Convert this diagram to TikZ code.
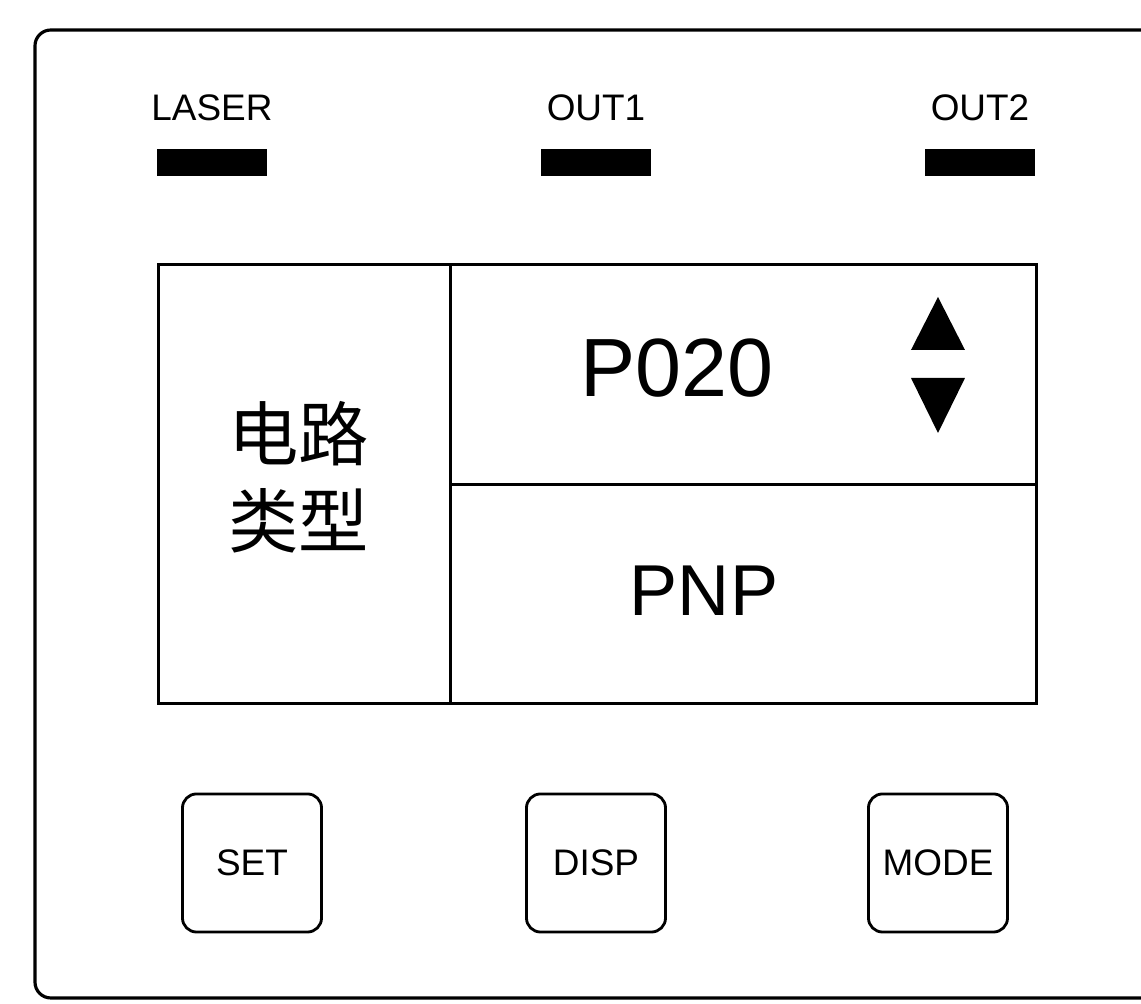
\documentclass[tikz,border=0pt]{standalone}
\usepackage{fontspec}
\setmainfont{Liberation Sans}
\newfontfamily\cjk{Noto Sans CJK SC}
\begin{document}
\begin{tikzpicture}[
  x=0.01cm, y=-0.01cm,
  panel/.style = {draw, line width=0.9pt, rounded corners=4.5pt},
  cell/.style = {draw, line width=0.85pt, anchor=north west, inner sep=0},
  led/.style = {fill=black, minimum width=1.1cm, minimum height=0.27cm, inner sep=0},
  ledlabel/.style = {font=\fontsize{10.5}{12}\selectfont, inner sep=0},
  key/.style = {draw, line width=0.8pt, rounded corners=4pt, minimum width=1.39cm,
    minimum height=1.38cm, inner sep=0, font=\fontsize{10.5}{12}\selectfont},
  cjktext/.style = {font=\cjk\fontsize{20}{24}\selectfont, inner sep=0}
  ]
  \clip (0,0) rectangle (1141,1004);
  \draw[panel] (35,30) rectangle (1170,998);
  % indicator lamps
  \foreach \name/\x in {LASER/212, OUT1/596, OUT2/980} {
    \node[ledlabel] (lbl\name) at (\x,108) {\name};
    \node[led] (led\name) at (\x,163) {};
  }
  % display
  \node[cell, minimum width=2.92cm, minimum height=4.39cm] (circuit) at (157,263) {};
  \node[cell, minimum width=5.86cm, minimum height=2.2cm] (value) at (449,263) {};
  \node[cell, minimum width=5.86cm, minimum height=2.19cm] (type) at (449,483) {};
  \node[cjktext] (circuittop) at (299,434) {电路};
  \node[cjktext] (circuitbot) at (299,521) {类型};
  \node[font=\fontsize{23.5}{28}\selectfont, inner sep=0] (valuetext) at (677,368) {P020};
  \node[font=\fontsize{20.5}{24}\selectfont, inner sep=0] (typetext) at (704,591) {PNP};
  \fill (911,350) -- (938,297) -- (965,350) -- cycle;
  \fill (911,378) -- (965,378) -- (938,433) -- cycle;
  % keys
  \node[key] (set) at (252,863) {SET};
  \node[key] (disp) at (596,863) {DISP};
  \node[key] (mode) at (938,863) {MODE};
\end{tikzpicture}
\end{document}
